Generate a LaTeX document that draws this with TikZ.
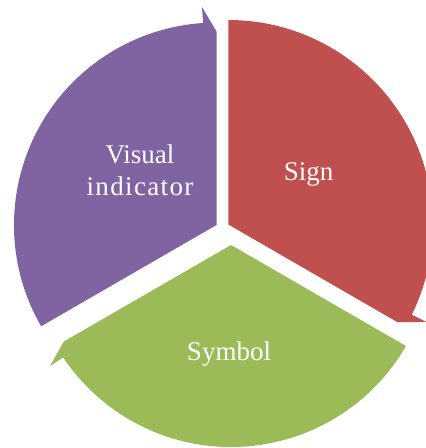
\documentclass[tikz,border=0pt]{standalone}
\usepackage{fontspec}
\setmainfont{Liberation Serif}
\definecolor{segpurple}{HTML}{8064A2}
\definecolor{segred}{HTML}{C0504D}
\definecolor{seggreen}{HTML}{9BBB59}
% #1,#2 centre, #3 radius, #4 start angle, #5 end angle (clockwise), #6 colour
\newcommand{\cycseg}[6]{%
  \fill[#6,shift={(#1pt,#2pt)}] (0,0) -- (#4:#3pt)
    arc[start angle=#4, end angle={#5+3.8}, radius=#3pt]
    -- ({#5+3.8}:{#3pt+16pt}) -- (#5:{#3pt-9pt}) -- cycle;}
\begin{document}
\begin{tikzpicture}[x=1pt,y=1pt,
  lbl/.style={text=white, font=\fontsize{27}{32}\selectfont, align=center, inner sep=0pt}]
\useasboundingbox (0,0) rectangle (426,-448);
\cycseg{216.5}{-225}{202.5}{210}{90}{segpurple}
\cycseg{228.3}{-224.5}{204.5}{90}{-30}{segred}
\cycseg{231}{-245}{202}{-30}{-150}{seggreen}
\node[lbl, anchor=base] (vis) at (140,-195) {Visual\\{\addfontfeature{LetterSpace=5}indicator}};
\node[lbl, anchor=base] (sign) at (308.7,-180) {Sign};
\node[lbl, anchor=base] (sym) at (229,-360.7) {Symbol};
\end{tikzpicture}
\end{document}
